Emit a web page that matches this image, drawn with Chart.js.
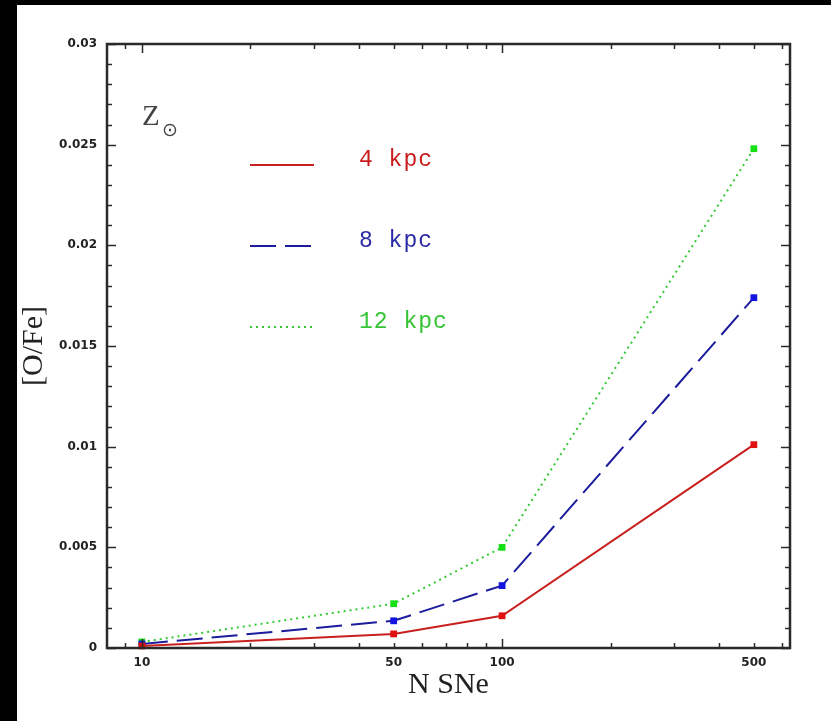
<!DOCTYPE html>
<html>
<head>
<meta charset="utf-8">
<script src="https://cdn.jsdelivr.net/npm/chart.js@4/dist/chart.umd.min.js"></script>
<style>
  html, body { margin: 0; padding: 0; background: #000; overflow: hidden; }
  #wrap { width: 831px; height: 721px; position: relative; }
</style>
</head>
<body>
<div id="wrap"><canvas id="ofeChart"></canvas></div>
<script>
// data
const nSNe = [10, 50, 100, 500];
const ofe4kpc = [0.0001, 0.0007, 0.0016, 0.0101];
const ofe8kpc = [0.0002, 0.00135, 0.0031, 0.0174];
const ofe12kpc = [0.0003, 0.0022, 0.0050, 0.0248];
const seriesNames = ['4 kpc', '8 kpc', '12 kpc'];

// axis ticks
const xTickValues = [9, 10, 20, 30, 40, 50, 60, 70, 80, 90, 100, 200, 300, 400, 500, 600];
const xTickLabels = [10, 50, 100, 500];
const xDecades = [10, 100];
const yTickLabels = [0, 0.005, 0.01, 0.015, 0.02, 0.025, 0.03];

const lineColors = ['#c8201e', '#1c1c9c', '#34c834'];
const pointColors = ['#e01010', '#1414e0', '#14e014'];
const textColors = ['#c81c1c', '#2a2aa4', '#34c434'];
const dashes = [[], [26, 9], [2, 4]];

function toPoints(ys) {
    return nSNe.map(function(n, i) { return {x: n, y: ys[i]}; });
}

const allSeries = [ofe4kpc, ofe8kpc, ofe12kpc];
const datasets = allSeries.map(function(ys, i) {
    return {
        label: seriesNames[i],
        data: toPoints(ys),
        borderColor: lineColors[i],
        borderWidth: 2,
        borderDash: dashes[i],
        pointStyle: 'rect',
        pointRadius: 4.8,
        pointBackgroundColor: pointColors[i],
        pointBorderColor: pointColors[i],
        pointBorderWidth: 0,
        fill: false,
        tension: 0,
        clip: false
    };
});

function isYLabel(v) {
    return Math.round(v * 1000) % 5 === 0;
}

// background, frame, inward ticks, legend and Z-sun annotation
const decor = {
    id: 'decor',
    beforeDraw(chart) {
        const ctx = chart.ctx;
        ctx.save();
        ctx.fillStyle = '#000';
        ctx.fillRect(0, 0, chart.width, chart.height);
        ctx.fillStyle = '#fff';
        ctx.fillRect(17, 5, chart.width - 17, chart.height - 5);
        ctx.restore();
    },
    afterDraw(chart) {
        const ctx = chart.ctx;
        const area = chart.chartArea;
        const xs = chart.scales.x, ys = chart.scales.y;
        ctx.save();
        ctx.strokeStyle = '#2a2a2a';
        ctx.lineWidth = 1.5;
        ctx.beginPath();
        xs.ticks.forEach(function(t) {
            const px = Math.round(xs.getPixelForValue(t.value)) + 0.5;
            const len = xDecades.includes(t.value) ? 9 : 5;
            ctx.moveTo(px, area.bottom); ctx.lineTo(px, area.bottom - len);
            ctx.moveTo(px, area.top); ctx.lineTo(px, area.top + len);
        });
        ys.ticks.forEach(function(t) {
            const py = Math.round(ys.getPixelForValue(t.value)) + 0.5;
            const len = isYLabel(t.value) ? 9 : 5;
            ctx.moveTo(area.left, py); ctx.lineTo(area.left + len, py);
            ctx.moveTo(area.right, py); ctx.lineTo(area.right - len, py);
        });
        ctx.stroke();
        ctx.lineWidth = 2.5;
        ctx.strokeRect(area.left, area.top, area.right - area.left, area.bottom - area.top);

        // legend
        chart.data.datasets.forEach(function(ds, i) {
            const y = 165 + i * 81;
            ctx.strokeStyle = ds.borderColor;
            ctx.lineWidth = 2;
            ctx.setLineDash(ds.borderDash);
            ctx.beginPath();
            ctx.moveTo(250, y); ctx.lineTo(314, y);
            ctx.stroke();
            ctx.setLineDash([]);
            ctx.fillStyle = textColors[i];
            ctx.font = '23px "Liberation Mono"';
            ctx.letterSpacing = '1px';
            ctx.textBaseline = 'alphabetic';
            ctx.textAlign = 'left';
            ctx.fillText(ds.label, 359, y + 1);
        });
        ctx.letterSpacing = '0px';

        // Z sun
        ctx.fillStyle = '#444';
        ctx.font = '29px "Liberation Serif"';
        ctx.fillText('Z', 142, 125);
        ctx.font = '19px "DejaVu Sans"';
        ctx.fillText('\u2299', 162, 136);
        ctx.restore();
    }
};

const tickFont = {family: '"DejaVu Sans"', size: 12, weight: 'bold'};

new Chart(document.getElementById('ofeChart').getContext('2d'), {
    type: 'line',
    data: { datasets: datasets },
    plugins: [decor],
    options: {
        responsive: true,
        maintainAspectRatio: false,
        animation: false,
        layout: { padding: { left: 17, top: 44, right: 41, bottom: 0 } },
        plugins: {
            legend: { display: false },
            tooltip: { enabled: false }
        },
        scales: {
            x: {
                type: 'logarithmic',
                min: 8,
                max: 630,
                grid: { display: false, drawTicks: false },
                border: { display: false },
                afterBuildTicks: function(scale) {
                    scale.ticks = xTickValues.map(function(v) { return {value: v}; });
                },
                afterFit: function(scale) { scale.height = 73; },
                ticks: {
                    autoSkip: false,
                    maxRotation: 0,
                    padding: 8,
                    color: '#222',
                    font: tickFont,
                    callback: function(v) {
                        return xTickLabels.includes(v) ? String(v) : '';
                    }
                },
                title: {
                    display: true,
                    text: 'N SNe',
                    color: '#222',
                    font: {family: '"Liberation Serif"', size: 30, lineHeight: 1},
                    padding: {top: 0, bottom: 21}
                }
            },
            y: {
                min: 0,
                max: 0.03,
                grid: { display: false, drawTicks: false },
                border: { display: false },
                afterBuildTicks: function(scale) {
                    const t = [];
                    for (let i = 0; i <= 30; i++) t.push({value: i / 1000});
                    scale.ticks = t;
                },
                afterFit: function(scale) { scale.width = 90; },
                ticks: {
                    autoSkip: false,
                    padding: 10,
                    color: '#222',
                    font: tickFont,
                    callback: function(v) {
                        return isYLabel(v) ? String(+v.toFixed(3)) : '';
                    }
                },
                title: {
                    display: true,
                    text: '[O/Fe]',
                    color: '#222',
                    font: {family: '"Liberation Serif"', size: 30, lineHeight: 1},
                    padding: {top: 2, bottom: 0}
                }
            }
        }
    }
});
</script>
</body>
</html>
